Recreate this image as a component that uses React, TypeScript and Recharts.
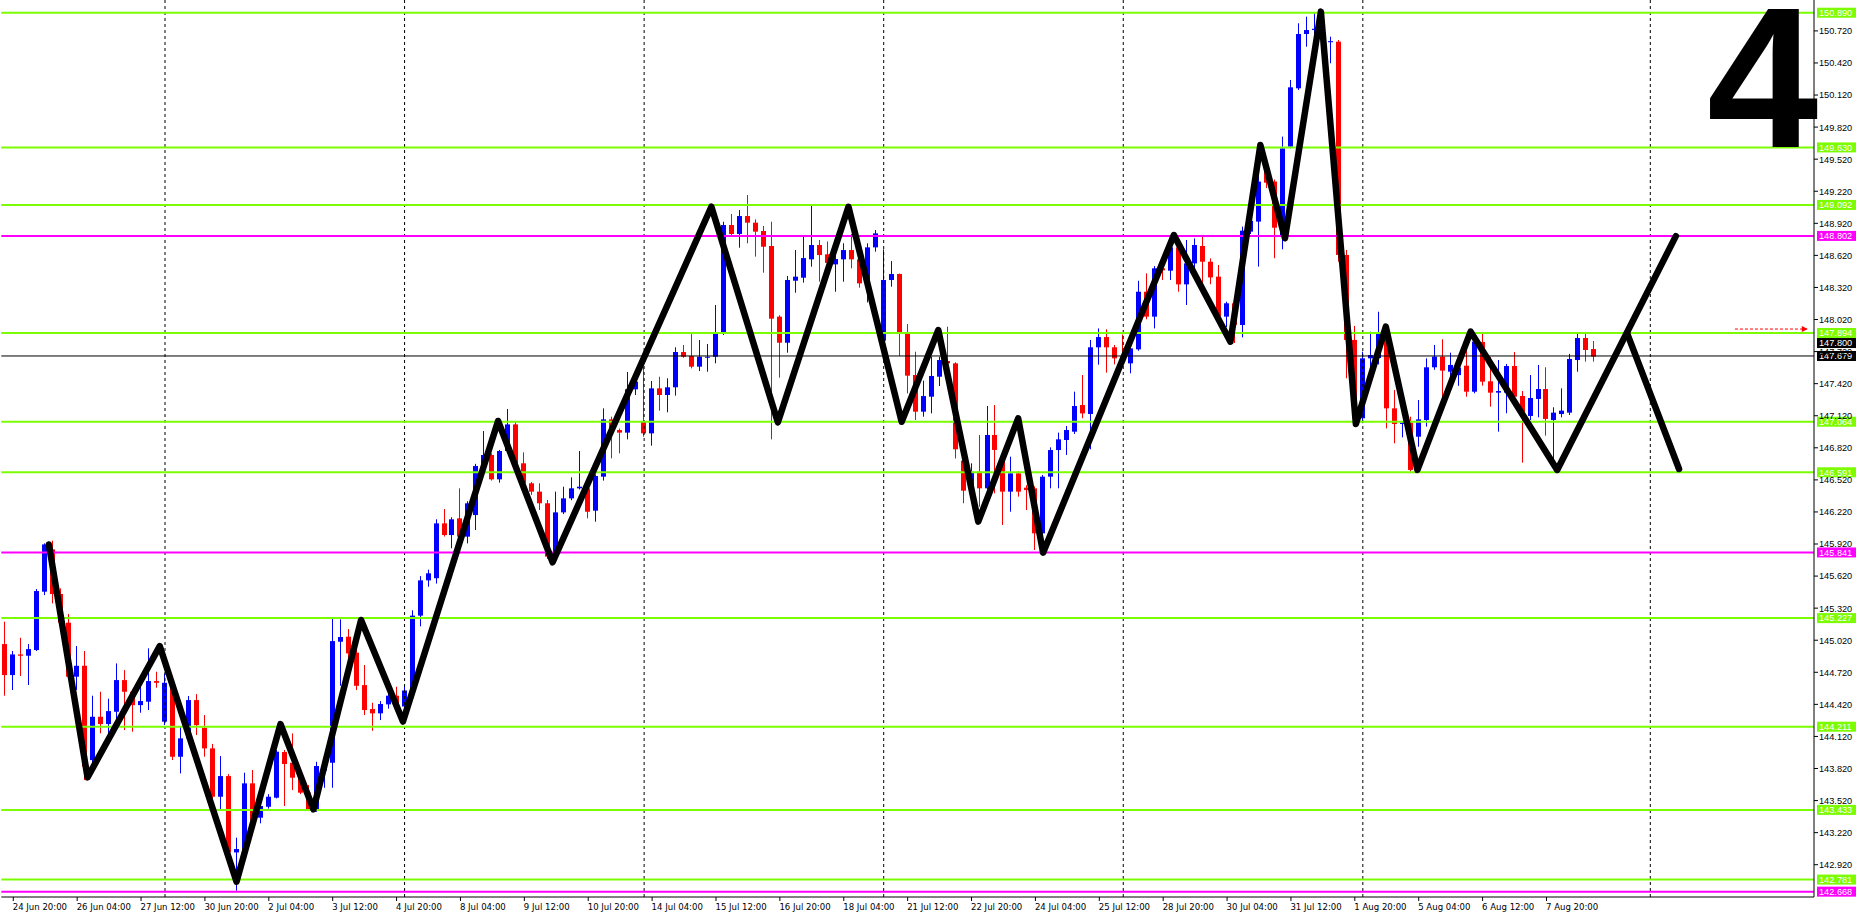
import React from 'react'
import { ComposedChart, Bar, Line, XAxis, YAxis, ReferenceLine, ReferenceDot } from 'recharts'

// H4 candles [open, high, low, close], one array per trading week
const week1 = [
  [144.984, 145.193, 144.501, 144.694], [144.694, 144.919, 144.554, 144.887], [144.887, 145.043, 144.685, 144.875],
  [144.875, 144.984, 144.601, 144.937], [144.928, 145.499, 144.92, 145.48], [145.474, 145.926, 145.442, 145.916],
  [145.87, 145.951, 145.364, 145.452], [145.452, 145.505, 145.162, 145.184], [145.184, 145.265, 144.647, 144.679],
  [144.679, 144.965, 144.554, 144.781], [144.781, 144.919, 143.712, 143.837], [143.899, 144.501, 143.868, 144.304],
  [144.304, 144.538, 144.149, 144.236], [144.236, 144.473, 144.149, 144.357], [144.351, 144.803, 144.273, 144.647],
  [144.647, 144.741, 144.18, 144.538], [144.538, 144.56, 144.164, 144.413], [144.413, 144.585, 144.342, 144.451],
  [144.445, 144.944, 144.367, 144.638], [144.638, 144.725, 144.576, 144.622],
]
const week2 = [
  [144.258, 144.71, 144.226, 144.622], [144.616, 144.647, 143.899, 143.93], [143.93, 144.211, 143.774, 144.102],
  [144.102, 144.498, 144.08, 144.46], [144.46, 144.516, 144.133, 144.226], [144.201, 144.32, 143.93, 144.008],
  [144.008, 144.05, 143.54, 143.556], [143.556, 143.936, 143.437, 143.749], [143.749, 143.768, 143.025, 143.035],
  [143.035, 143.173, 142.677, 143.067], [143.067, 143.781, 142.95, 143.681], [143.681, 143.806, 143.31, 143.338],
  [143.36, 143.494, 143.307, 143.469], [143.462, 143.58, 143.445, 143.556], [143.547, 143.993, 143.54, 143.977],
  [143.974, 143.993, 143.469, 143.862], [143.874, 144.148, 143.618, 143.734], [143.734, 143.8, 143.58, 143.594],
  [143.594, 143.665, 143.425, 143.438], [143.431, 143.883, 143.415, 143.843], [143.8, 143.87, 143.64, 143.874],
  [143.874, 145.224, 143.64, 145.012], [145.006, 145.215, 144.594, 145.05], [145.053, 145.124, 144.85, 144.897],
  [144.903, 144.95, 144.554, 144.594], [144.6, 144.788, 144.32, 144.367], [144.376, 144.435, 144.173, 144.336],
  [144.336, 144.451, 144.273, 144.423], [144.42, 144.56, 144.38, 144.501], [144.501, 144.585, 144.37, 144.398],
]
const week3 = [
  [144.4, 144.6, 144.25, 144.55], [144.55, 145.3, 144.5, 145.25], [145.25, 145.62, 145.15, 145.58],
  [145.58, 145.68, 145.52, 145.646], [145.6, 146.151, 145.55, 146.113], [146.113, 146.247, 145.99, 146.004],
  [146.004, 146.17, 145.88, 146.151], [146.16, 146.441, 145.97, 145.989], [145.989, 146.32, 145.926, 146.301],
  [146.191, 146.67, 146.051, 146.65], [146.65, 146.977, 146.62, 146.753], [146.753, 146.768, 146.513, 146.525],
  [146.525, 146.8, 146.494, 146.79], [146.79, 147.183, 146.78, 147.039], [147.039, 147.064, 146.66, 146.675],
  [146.675, 146.778, 146.47, 146.488], [146.488, 146.5, 146.38, 146.41], [146.41, 146.488, 146.238, 146.301],
  [146.301, 146.332, 145.78, 145.802], [145.802, 146.41, 145.79, 146.216], [146.216, 146.456, 146.2, 146.347],
  [146.347, 146.544, 146.33, 146.441], [146.441, 146.79, 146.43, 146.456], [146.441, 146.46, 146.16, 146.222],
  [146.232, 146.57, 146.129, 146.556], [146.55, 147.189, 146.513, 147.086], [147.086, 147.111, 146.721, 146.986],
  [146.986, 147.0, 146.768, 146.962], [146.962, 147.529, 146.899, 147.367], [147.367, 147.46, 147.314, 147.439],
]
const week4 = [
  [147.064, 147.579, 146.924, 146.955], [146.955, 147.445, 146.84, 147.376], [147.376, 147.485, 147.167, 147.314],
  [147.314, 147.47, 147.152, 147.386], [147.386, 147.76, 147.308, 147.716], [147.716, 147.782, 147.663, 147.672],
  [147.679, 147.884, 147.563, 147.579], [147.579, 147.828, 147.538, 147.672], [147.663, 147.791, 147.532, 147.672],
  [147.672, 148.156, 147.61, 147.891], [147.891, 148.935, 147.875, 148.904], [148.904, 149.007, 148.8, 148.82],
  [148.82, 149.044, 148.692, 148.988], [148.988, 149.185, 148.733, 148.926], [148.926, 148.957, 148.608, 148.842],
  [148.848, 148.895, 148.458, 148.701], [148.708, 148.935, 146.899, 148.028], [148.047, 148.06, 147.476, 147.803],
  [147.803, 148.427, 147.71, 148.39], [148.383, 148.67, 148.271, 148.421], [148.411, 148.801, 148.365, 148.595],
  [148.583, 149.097, 148.514, 148.717], [148.717, 148.764, 148.374, 148.623], [148.63, 148.75, 148.5, 148.55],
  [148.536, 148.764, 148.28, 148.586], [148.583, 148.733, 148.374, 148.67], [148.67, 148.82, 148.499, 148.583],
  [148.583, 148.6, 148.318, 148.358], [148.358, 148.733, 148.18, 148.695], [148.695, 148.857, 148.655, 148.826],
]
const week5 = [
  [147.822, 148.676, 147.813, 148.39], [148.39, 148.567, 148.327, 148.446], [148.446, 148.45, 147.679, 147.9],
  [147.891, 147.978, 147.329, 147.495], [147.501, 147.719, 147.08, 147.158], [147.158, 147.448, 147.111, 147.304],
  [147.298, 147.672, 147.142, 147.492], [147.485, 147.672, 147.398, 147.641], [147.632, 147.953, 147.59, 147.61],
  [147.61, 147.62, 146.72, 146.806], [146.7, 146.83, 146.301, 146.419], [146.419, 146.675, 146.301, 146.597],
  [146.597, 146.94, 146.269, 146.441], [146.441, 147.211, 146.43, 146.94], [146.94, 147.22, 146.394, 146.8],
  [146.706, 146.75, 146.098, 146.41], [146.41, 146.737, 146.222, 146.581], [146.581, 146.6, 146.363, 146.41],
  [146.447, 146.47, 146.238, 146.425], [146.441, 146.46, 145.864, 146.02], [146.02, 146.566, 145.833, 146.55],
  [146.55, 146.824, 146.441, 146.799], [146.799, 146.962, 146.441, 146.899], [146.893, 147.024, 146.753, 146.986],
  [146.971, 147.345, 146.95, 147.211], [147.22, 147.501, 147.096, 147.142], [147.136, 147.828, 146.806, 147.76],
  [147.76, 147.937, 147.598, 147.856], [147.856, 147.928, 147.523, 147.76], [147.76, 147.782, 147.6, 147.657],
]
const week6 = [
  [147.672, 147.88, 147.58, 147.64], [147.61, 147.85, 147.517, 147.75], [147.741, 148.383, 147.728, 148.28],
  [148.28, 148.452, 148.022, 148.047], [148.047, 148.52, 147.937, 148.499], [148.499, 148.561, 148.39, 148.48],
  [148.477, 148.708, 148.39, 148.695], [148.695, 148.7, 148.28, 148.349], [148.349, 148.764, 148.156, 148.545],
  [148.545, 148.779, 148.5, 148.717], [148.708, 148.801, 148.327, 148.561], [148.561, 148.592, 148.35, 148.414],
  [148.421, 148.53, 148.0, 148.047], [148.047, 148.187, 147.95, 148.172], [148.172, 148.19, 147.8, 147.97],
  [147.969, 148.889, 147.853, 148.851], [148.842, 148.98, 148.82, 148.942], [148.936, 149.512, 148.515, 149.31],
  [149.42, 149.481, 149.25, 149.3], [149.31, 149.33, 148.593, 148.879], [148.811, 149.731, 148.677, 149.621],
  [149.637, 150.261, 149.621, 150.192], [150.183, 150.791, 150.167, 150.691], [150.691, 150.853, 150.572, 150.728],
  [150.728, 150.884, 150.65, 150.74], [150.74, 150.89, 150.6, 150.7], [150.614, 150.666, 150.417, 150.624],
  [150.619, 150.635, 148.561, 148.624], [148.624, 148.671, 147.47, 147.829], [147.829, 147.96, 147.05, 147.096],
]
const week7 = [
  [147.096, 147.719, 147.05, 147.657], [147.657, 147.906, 147.55, 147.688], [147.66, 148.093, 147.6, 147.891],
  [147.891, 147.9, 147.002, 147.189], [147.189, 147.361, 146.862, 147.043], [147.043, 147.07, 146.918, 147.055],
  [147.055, 147.111, 146.597, 146.613], [146.924, 147.267, 146.83, 147.086], [147.08, 147.657, 147.018, 147.573],
  [147.573, 147.782, 147.55, 147.673], [147.673, 147.835, 147.236, 147.542], [147.532, 147.71, 147.45, 147.595],
  [147.5, 147.6, 147.4, 147.57], [147.588, 147.766, 147.298, 147.345], [147.345, 147.83, 147.33, 147.813],
  [147.81, 147.885, 147.401, 147.439], [147.442, 147.67, 147.205, 147.336], [147.336, 147.641, 146.971, 147.351],
  [147.336, 147.604, 147.143, 147.585], [147.585, 147.716, 147.25, 147.298], [147.305, 147.351, 146.681, 147.149],
  [147.118, 147.501, 147.08, 147.286], [147.277, 147.595, 147.105, 147.37], [147.37, 147.573, 146.934, 147.09],
  [147.08, 147.199, 146.628, 147.149], [147.136, 147.376, 147.105, 147.168], [147.149, 147.698, 147.127, 147.651],
  [147.641, 147.885, 147.532, 147.847], [147.847, 147.885, 147.626, 147.735], [147.744, 147.819, 147.626, 147.673],
]

// hand drawn zigzag, [bar, price]
const zigzag = [
  [5.46, 145.916], [10.3, 143.737], [19.34, 144.965], [28.96, 142.761], [34.46, 144.236], [38.59, 143.438],
  [44.55, 145.209], [49.8, 144.259], [61.71, 147.071], [68.54, 145.749], [88.42, 149.075], [96.75, 147.058],
  [105.59, 149.075], [112.25, 147.064], [116.84, 147.922], [121.84, 146.129], [126.84, 147.096], [129.96, 145.839],
  [146.34, 148.81], [153.42, 147.813], [157.17, 149.653], [160.25, 148.78], [164.75, 150.9], [169.13, 147.043],
  [172.88, 147.953], [176.84, 146.613], [183.5, 147.907], [194.34, 146.613], [209.2, 148.8],
]
const projection = [[203.1, 147.891], [209.6, 146.622]]

const greenLevels = [150.89, 149.63, 149.092, 147.894, 147.064, 146.591, 145.227, 144.211, 143.433, 142.781]
const magentaLevels = [148.802, 145.841, 142.668]
const bidPrice = 147.679
const askPrice = 147.8
const separators = [20, 50, 80, 110, 140, 170, 206]
const arrowLevel = 147.931
const arrowSpan = [216.6, 225.6]

const priceTicks = [
  142.92, 143.22, 143.52, 143.82, 144.12, 144.42, 144.72, 145.02, 145.32, 145.62, 145.92, 146.22, 146.52, 146.82,
  147.12, 147.42, 147.72, 148.02, 148.32, 148.62, 148.92, 149.22, 149.52, 149.82, 150.12, 150.42, 150.72,
]
const timeLabels = [
  '24 Jun 20:00', '26 Jun 04:00', '27 Jun 12:00', '30 Jun 20:00', '2 Jul 04:00', '3 Jul 12:00', '4 Jul 20:00',
  '8 Jul 04:00', '9 Jul 12:00', '10 Jul 20:00', '14 Jul 04:00', '15 Jul 12:00', '16 Jul 20:00', '18 Jul 04:00',
  '21 Jul 12:00', '22 Jul 20:00', '24 Jul 04:00', '25 Jul 12:00', '28 Jul 20:00', '30 Jul 04:00', '31 Jul 12:00',
  '1 Aug 20:00', '5 Aug 04:00', '6 Aug 12:00', '7 Aug 20:00',
]

const candles = [...week1, ...week2, ...week3, ...week4, ...week5, ...week6, ...week7]
const totalBars = 227
const rows = Array.from({ length: totalBars }, (_, i) => {
  const c = candles[i]
  if (!c) return { x: i }
  return { x: i, o: c[0], h: c[1], l: c[2], c: c[3], range: [c[2], c[1]] }
})
const timeTicks = timeLabels.map((_, j) => 1 + j * 8)
const zigzagPts = zigzag.map(([x, y]) => ({ x, y }))
const projectionPts = projection.map(([x, y]) => ({ x, y }))

const GREEN = '#7cfc00'
const MAGENTA = '#ff00ff'
const priceFont = '"Liberation Sans", Arial, sans-serif'
const dateFont = '"Liberation Sans Narrow", "DejaVu Sans Condensed", "Liberation Sans", sans-serif'

const Candle = (props: any) => {
  const { x, y, width, height, payload } = props
  if (!payload || payload.h == null) return null
  const { o, h, l, c } = payload
  const col = c >= o ? '#0000ff' : '#ff0000'
  const k = h > l ? height / (h - l) : 0
  const cx = Math.floor(x + width / 2)
  const top = y + (h - Math.max(o, c)) * k
  const bh = Math.max(1, Math.abs(o - c) * k)
  return (
    <g>
      <line x1={cx + 0.5} x2={cx + 0.5} y1={y} y2={y + height} stroke={col} strokeWidth={1} />
      <rect x={cx - 2} y={top} width={5} height={bh} fill={col} />
    </g>
  )
}

const tag = (text: string, bg: string) => (props: any) => {
  const vb = props.viewBox
  if (!vb) return null
  const right = vb.x + vb.width
  return (
    <g>
      <rect x={right + 3} y={vb.y - 5} width={39} height={10} fill={bg} />
      <text x={right + 5} y={vb.y + 3.4} fill="#fff" fontSize={9.2} fontFamily={priceFont}>{text}</text>
    </g>
  )
}

const PriceTick = (props: any) => {
  const { x, y, payload } = props
  return (
    <g>
      <line x1={x} x2={x + 4} y1={y} y2={y} stroke="#000" />
      <text x={x + 5} y={y + 3.4} fill="#000" fontSize={9.2} fontFamily={priceFont}>{payload.value.toFixed(3)}</text>
    </g>
  )
}

const TimeTick = (props: any) => {
  const { x, y, payload } = props
  const label = timeLabels[(payload.value - 1) / 8]
  return (
    <g>
      <line x1={x} x2={x} y1={y} y2={y + 4} stroke="#000" />
      <text x={x - 0.5} y={y + 12.5} fill="#000" fontSize={9.5} fontFamily={dateFont}>{label}</text>
    </g>
  )
}

export default function App() {
  return (
    <div style={{ position: 'absolute', left: 0, top: 0, width: 1863, height: 917, background: '#fff' }}>
      <ComposedChart width={1863} height={917} data={rows} margin={{ top: 0, right: 0, bottom: 0, left: 1.3 }}>
        <XAxis dataKey="x" type="category" height={20} ticks={timeTicks} interval={0} tickSize={0} tickMargin={0}
          tick={<TimeTick />} axisLine={{ stroke: '#000' }} tickLine={false} />
        <XAxis xAxisId="z" dataKey="x" type="number" domain={[-0.5, totalBars - 0.5]} allowDataOverflow hide />
        <YAxis orientation="right" width={49} type="number" domain={[142.618, 151.009]} allowDataOverflow
          ticks={priceTicks} interval={0} tickSize={0} tickMargin={0} tick={<PriceTick />}
          axisLine={{ stroke: '#000' }} tickLine={false} />
        <Bar dataKey="range" barSize={5} shape={<Candle />} isAnimationActive={false} />
        {separators.map(s => (
          <ReferenceLine key={'s' + s} xAxisId="z" x={s} stroke="#000" strokeDasharray="3 3" strokeWidth={1} />
        ))}
        {greenLevels.map(p => (
          <ReferenceLine key={'g' + p} y={p} stroke={GREEN} strokeWidth={2} label={tag(p.toFixed(3), GREEN)} />
        ))}
        {magentaLevels.map(p => (
          <ReferenceLine key={'m' + p} y={p} stroke={MAGENTA} strokeWidth={2} label={tag(p.toFixed(3), MAGENTA)} />
        ))}
        <ReferenceLine y={bidPrice} stroke="#000" strokeWidth={1} label={tag(bidPrice.toFixed(3), '#000')} />
        <ReferenceLine y={askPrice} stroke="none" label={tag(askPrice.toFixed(3), '#000')} />
        <ReferenceLine xAxisId="z" segment={[{ x: arrowSpan[0], y: arrowLevel }, { x: arrowSpan[1], y: arrowLevel }]}
          stroke="#ff0000" strokeDasharray="3 2" />
        <ReferenceDot xAxisId="z" x={arrowSpan[1]} y={arrowLevel}
          shape={(p: any) => <path d={`M${p.cx - 5},${p.cy - 3}L${p.cx + 1},${p.cy}L${p.cx - 5},${p.cy + 3}Z`} fill="#ff0000" />} />
        <Line xAxisId="z" data={zigzagPts} dataKey="y" type="linear" stroke="#000" strokeWidth={6.5}
          strokeLinejoin="round" strokeLinecap="round" dot={false} activeDot={false} isAnimationActive={false} />
        <Line xAxisId="z" data={projectionPts} dataKey="y" type="linear" stroke="#000" strokeWidth={6.5}
          strokeLinejoin="round" strokeLinecap="round" dot={false} activeDot={false} isAnimationActive={false} />
      </ComposedChart>
      <svg width={1863} height={917} style={{ position: 'absolute', left: 0, top: 0, pointerEvents: 'none' }}>
        <text x={1707} y={147} fontSize={200} fontWeight="bold" fontFamily={priceFont} fill="#000">4</text>
      </svg>
    </div>
  )
}
